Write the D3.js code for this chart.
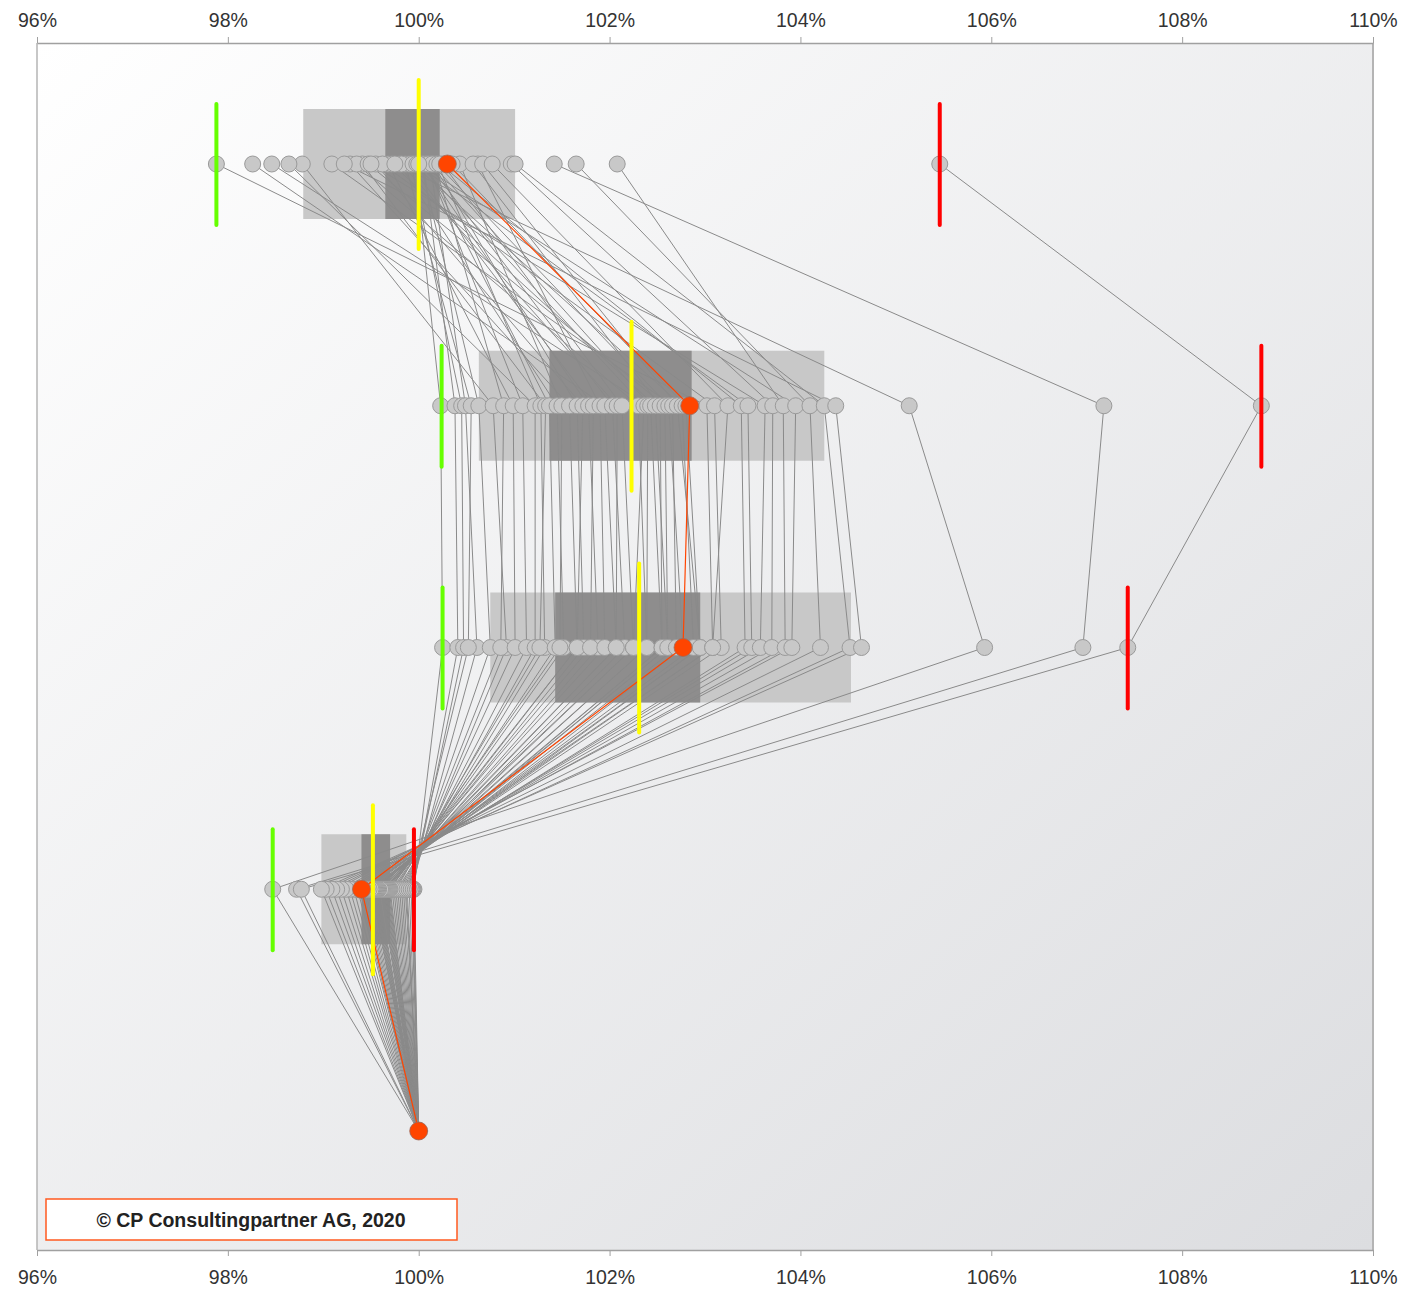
<!DOCTYPE html>
<html>
<head>
<meta charset="utf-8">
<script src="https://cdn.jsdelivr.net/npm/d3@7"></script>
<style>
  html, body { margin: 0; padding: 0; background: #ffffff; }
  svg { display: block; font-family: "Liberation Sans", Arial, sans-serif; }
</style>
</head>
<body>
<svg id="chart" width="1426" height="1290"></svg>
<script>
// ---- data ----
const tickValues = [96, 98, 100, 102, 104, 106, 108, 110];
const tickLabels = ["96%", "98%", "100%", "102%", "104%", "106%", "108%", "110%"];
const stageIds = [0, 1, 2, 3, 4];
const baseValue = 100;          // final stage: every series ends at 100%
const highlightIndex = 0;       // orange series

// series values per stage (index-aligned, one entry per series)
const stage1 = [100.30, 99.96, 100.05, 99.92, 100.12, 99.86, 100.02, 98.78, 100.17, 99.68,
  100.09, 98.64, 100.20, 99.41, 100.07, 99.80, 100.43, 99.28, 100.15, 99.55,
  100.04, 99.90, 100.62, 98.26, 100.10, 99.82, 100.25, 99.35, 100.00, 98.46,
  100.14, 99.72, 100.57, 99.47, 100.19, 99.09, 100.67, 99.94, 100.35, 97.88,
  99.62, 100.77, 100.22, 99.98, 99.50, 100.97, 102.08, 100.00, 101.65, 101.01,
  99.22, 99.75, 101.42, 105.46];
const stage2 = [102.84, 100.23, 100.38, 100.45, 100.49, 100.55, 100.63, 100.78, 100.89, 100.99,
  101.09, 101.22, 101.28, 101.33, 101.37, 101.45, 101.50, 101.58, 101.66, 101.72,
  101.78, 101.83, 101.90, 101.95, 102.03, 102.08, 102.13, 102.30, 102.36, 102.40,
  102.43, 102.48, 102.53, 102.58, 102.62, 102.66, 102.71, 102.76, 102.80, 103.02,
  103.10, 103.24, 103.38, 103.45, 103.63, 103.71, 103.82, 103.95, 104.10, 104.25,
  104.37, 105.14, 107.18, 108.83];
const stage3 = [102.77, 100.25, 100.41, 100.47, 100.61, 100.52, 100.75, 100.92, 100.86, 101.01,
  101.13, 101.22, 101.32, 101.27, 101.43, 101.52, 101.48, 101.66, 101.73, 101.66,
  101.88, 101.80, 101.95, 102.07, 102.16, 102.07, 102.25, 102.39, 102.25, 102.39,
  102.55, 102.61, 102.55, 102.61, 102.77, 102.70, 102.95, 102.88, 102.95, 103.08,
  103.17, 103.08, 103.42, 103.49, 103.58, 103.70, 103.84, 103.91, 104.21, 104.52,
  104.64, 105.93, 106.96, 107.43];
const stage4 = [99.40, 99.95, 99.94, 99.93, 99.92, 99.90, 99.88, 99.87, 99.86, 99.84,
  99.82, 99.80, 99.78, 99.76, 99.74, 99.72, 99.70, 99.69, 99.68, 99.67,
  99.66, 99.65, 99.64, 99.63, 99.62, 99.61, 99.60, 99.58, 99.57, 99.56,
  99.55, 99.54, 99.53, 99.52, 99.51, 99.50, 99.48, 99.46, 99.44, 99.42,
  99.40, 99.38, 99.36, 99.32, 99.28, 99.24, 99.19, 99.14, 99.09, 99.03,
  98.98, 98.47, 98.72, 98.77];

// per-stage statistics (stages 1-4)
const statMin    = [97.88, 100.24, 100.25, 98.47];
const statMedian = [100.00, 102.23, 102.31, 99.52];
const statMax    = [105.46, 108.83, 107.43, 99.95];
const outerLow   = [98.79, 100.63, 100.75, 98.98];
const outerHigh  = [101.01, 104.25, 104.53, 99.87];
const innerLow   = [99.65, 101.37, 101.43, 99.40];
const innerHigh  = [100.22, 102.86, 102.95, 99.70];

// ---- chart ----
const svg = d3.select("#chart");
const pLeft = 37, pRight = 1373, pTop = 43, pBottom = 1250;

const x = d3.scaleLinear().domain([96, 110]).range([pLeft, pRight]);
const y = d3.scalePoint().domain(stageIds).range([164, 1131]);

const defs = svg.append("defs");
const grad = defs.append("linearGradient").attr("id", "bg")
  .attr("x1", "0").attr("y1", "0").attr("x2", "1").attr("y2", "1");
grad.append("stop").attr("offset", "0%").attr("stop-color", "#ffffff");
grad.append("stop").attr("offset", "100%").attr("stop-color", "#dcdde0");

svg.append("rect").attr("x", pLeft).attr("y", pTop)
  .attr("width", pRight - pLeft).attr("height", pBottom - pTop)
  .attr("fill", "url(#bg)");

// side borders
svg.append("line").attr("x1", pLeft).attr("x2", pLeft).attr("y1", pTop).attr("y2", pBottom)
  .attr("stroke", "#b4b4b4").attr("stroke-width", 1.5);
svg.append("line").attr("x1", pRight).attr("x2", pRight).attr("y1", pTop).attr("y2", pBottom)
  .attr("stroke", "#b4b4b4").attr("stroke-width", 2);

// axes
const fmt = d => tickLabels[tickValues.indexOf(d)];
const axTop = svg.append("g").attr("transform", `translate(0,${pTop})`)
  .call(d3.axisTop(x).tickValues(tickValues).tickFormat(fmt).tickSize(6).tickSizeOuter(0));
const axBot = svg.append("g").attr("transform", `translate(0,${pBottom})`)
  .call(d3.axisBottom(x).tickValues(tickValues).tickFormat(fmt).tickSize(6).tickSizeOuter(0));
[axTop, axBot].forEach(g => {
  g.select(".domain").attr("stroke", "#a0a0a0").attr("stroke-width", 1.5);
  g.selectAll(".tick line").attr("stroke", "#a0a0a0");
  g.selectAll(".tick text").attr("font-size", 19.5).attr("fill", "#333")
    .attr("font-family", "Liberation Sans, Arial, sans-serif");
});
axTop.selectAll(".tick text").attr("y", -16).attr("dy", "0");
axBot.selectAll(".tick text").attr("y", 34).attr("dy", "0");

const statIdx = d3.range(statMin.length);

// boxes
svg.append("g").selectAll("rect").data(statIdx).join("rect")
  .attr("x", i => x(outerLow[i])).attr("width", i => x(outerHigh[i]) - x(outerLow[i]))
  .attr("y", i => y(i) - 55).attr("height", 110).attr("fill", "#c8c8c8");
svg.append("g").selectAll("rect").data(statIdx).join("rect")
  .attr("x", i => x(innerLow[i])).attr("width", i => x(innerHigh[i]) - x(innerLow[i]))
  .attr("y", i => y(i) - 55).attr("height", 110).attr("fill", "#8e8d8d");

// series lines
const seriesIdx = d3.range(stage1.length);
const seriesPts = k => [stage1[k], stage2[k], stage3[k], stage4[k], baseValue].map((v, s) => [v, s]);
const line = d3.line().x(d => x(d[0])).y(d => y(d[1]));

svg.append("g").selectAll("path").data(seriesIdx.filter(k => k !== highlightIndex)).join("path")
  .attr("d", k => line(seriesPts(k))).attr("fill", "none")
  .attr("stroke", "#8a8a8a").attr("stroke-width", 1);

// points
const ptsData = [];
seriesIdx.forEach(k => {
  if (k === highlightIndex) return;
  seriesPts(k).forEach(p => ptsData.push(p));
});
svg.append("g").selectAll("circle").data(ptsData).join("circle")
  .attr("cx", d => x(d[0])).attr("cy", d => y(d[1])).attr("r", 8)
  .attr("fill", "#c8c8c8").attr("stroke", "#9a9a9a").attr("stroke-width", 1);

// highlighted series
svg.append("path").attr("d", line(seriesPts(highlightIndex))).attr("fill", "none")
  .attr("stroke", "#ff4500").attr("stroke-width", 1.2);
svg.append("g").selectAll("circle").data(seriesPts(highlightIndex)).join("circle")
  .attr("cx", d => x(d[0])).attr("cy", d => y(d[1])).attr("r", 9)
  .attr("fill", "#ff4500").attr("stroke", "#a06a5a").attr("stroke-width", 0.8);

// statistic markers
const marker = (vals, color, up, down) =>
  svg.append("g").selectAll("line").data(statIdx).join("line")
    .attr("x1", i => x(vals[i])).attr("x2", i => x(vals[i]))
    .attr("y1", i => y(i) - up).attr("y2", i => y(i) + down)
    .attr("stroke", color).attr("stroke-width", 4).attr("stroke-linecap", "round");
marker(statMin, "#66ff00", 60, 61);
marker(statMax, "#ff0000", 60, 61);
marker(statMedian, "#ffff00", 84, 85);

// copyright box
svg.append("rect").attr("x", 46).attr("y", 1199).attr("width", 411).attr("height", 41)
  .attr("fill", "#ffffff").attr("stroke", "#ff5a1f").attr("stroke-width", 1.5);
svg.append("text").attr("x", 251).attr("y", 1227).attr("text-anchor", "middle")
  .attr("font-size", 19.5).attr("font-weight", "bold").attr("fill", "#222")
  .text("© CP Consultingpartner AG, 2020");
</script>
</body>
</html>
